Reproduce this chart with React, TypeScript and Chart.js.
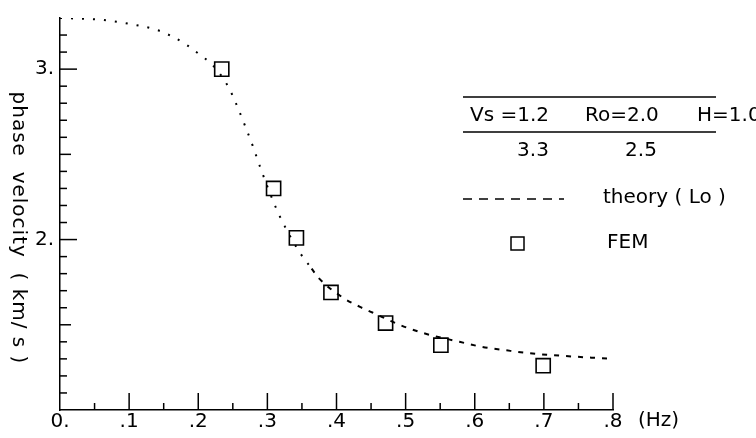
import React, { useEffect, useRef } from 'react';
import { Chart, registerables } from 'chart.js';
Chart.register(...registerables);

// FEM results (frequency Hz, phase velocity km/s)
const femFreq = [0.234, 0.309, 0.342, 0.392, 0.471, 0.551, 0.699];
const femVel = [3.0, 2.3, 2.01, 1.69, 1.51, 1.38, 1.26];

// theory (Lo) curve
const theoryFreq = [0, 0.058, 0.101, 0.14, 0.163, 0.184, 0.202, 0.221, 0.243, 0.254, 0.266, 0.279, 0.29, 0.312, 0.325, 0.347, 0.364, 0.374, 0.409, 0.434, 0.452, 0.491, 0.525, 0.578, 0.611, 0.646, 0.679, 0.712, 0.798];
const theoryVel = [3.3, 3.29, 3.265, 3.23, 3.19, 3.14, 3.085, 3.023, 2.9, 2.805, 2.685, 2.548, 2.42, 2.19, 2.079, 1.923, 1.83, 1.775, 1.66, 1.605, 1.572, 1.5, 1.452, 1.4, 1.37, 1.35, 1.333, 1.322, 1.3];

// axis ticks
const xTickValues = [0, 0.1, 0.2, 0.3, 0.4, 0.5, 0.6, 0.7, 0.8];
const xTickLabels = ['0.', '.1', '.2', '.3', '.4', '.5', '.6', '.7', '.8'];
const yTickValues = [2, 3];
const yTickLabels = ['2.', '3.'];

// legend table text
const paramNames = ['Vs =1.2', 'Ro=2.0', 'H=1.0'];
const paramValues = ['3.3', '2.5'];
const seriesNames = ['theory ( Lo )', 'FEM'];
const yTitle = 'phase  velocity  ( km/ s )';
const xUnit = '(Hz)';

const FONT = '"DejaVu Sans", sans-serif';

export default function App() {
  const ref = useRef<HTMLCanvasElement | null>(null);
  useEffect(() => {
    const canvas = ref.current!;
    const decor = {
      id: 'decor',
      afterDraw(chart: any) {
        const ctx = chart.ctx as CanvasRenderingContext2D;
        const xs = chart.scales.x;
        const ys = chart.scales.y;
        const left = chart.chartArea.left;
        const bottom = chart.chartArea.bottom;
        ctx.save();
        ctx.strokeStyle = '#000';
        ctx.lineWidth = 1.5;
        // y ticks (inside)
        for (let i = 11; i <= 32; i++) {
          const v = i / 10;
          const y = ys.getPixelForValue(v);
          const len = i % 10 === 0 ? 17 : i % 5 === 0 ? 11 : 7;
          ctx.beginPath();
          ctx.moveTo(left, y);
          ctx.lineTo(left + len, y);
          ctx.stroke();
        }
        // x ticks (inside)
        for (let i = 1; i <= 16; i++) {
          const v = i / 20;
          const x = xs.getPixelForValue(v);
          const len = i % 2 === 0 ? 17 : 7;
          ctx.beginPath();
          ctx.moveTo(x, bottom);
          ctx.lineTo(x, bottom - len);
          ctx.stroke();
        }
        ctx.fillStyle = '#000';
        ctx.font = `20px ${FONT}`;
        ctx.textBaseline = 'middle';
        // x unit
        ctx.textAlign = 'left';
        ctx.fillText(xUnit, 638, 421);
        // y title, rotated clockwise
        ctx.save();
        ctx.translate(18, 228);
        ctx.rotate(Math.PI / 2);
        ctx.textAlign = 'center';
        (ctx as any).letterSpacing = '1px';
        ctx.fillText(yTitle, 0, 0);
        (ctx as any).letterSpacing = '0px';
        ctx.restore();
        // legend table
        ctx.lineWidth = 1.5;
        ctx.beginPath();
        ctx.moveTo(463, 97);
        ctx.lineTo(716, 97);
        ctx.moveTo(463, 132);
        ctx.lineTo(716, 132);
        ctx.stroke();
        ctx.textAlign = 'left';
        ctx.fillText(paramNames[0], 470, 116);
        ctx.fillText(paramNames[1], 585, 116);
        ctx.fillText(paramNames[2], 697, 116);
        ctx.textAlign = 'center';
        ctx.fillText(paramValues[0], 533, 151);
        ctx.fillText(paramValues[1], 641, 151);
        ctx.textAlign = 'left';
        ctx.setLineDash([9, 7]);
        ctx.beginPath();
        ctx.moveTo(463, 199);
        ctx.lineTo(564, 199);
        ctx.stroke();
        ctx.setLineDash([]);
        ctx.fillText(seriesNames[0], 603, 198);
        ctx.strokeRect(511, 237, 13, 13);
        ctx.fillText(seriesNames[1], 607, 243);
        ctx.restore();
      },
    };
    const chart = new Chart(canvas, {
      type: 'scatter',
      data: {
        datasets: [
          {
            type: 'line',
            label: seriesNames[0],
            data: theoryFreq.map((x, i) => ({ x, y: theoryVel[i] })),
            borderColor: '#000',
            borderWidth: 2,
            pointRadius: 0,
            fill: false,
            cubicInterpolationMode: 'monotone',
            segment: {
              borderDash: (c: any) => (c.p0.parsed.x < 0.36 ? [2, 9] : [5, 7]),
            },
          } as any,
          {
            label: seriesNames[1],
            data: femFreq.map((x, i) => ({ x, y: femVel[i] })),
            pointStyle: 'rect',
            pointRadius: 10,
            pointBorderWidth: 1.6,
            pointBorderColor: '#000',
            pointBackgroundColor: 'rgba(0,0,0,0)',
            showLine: false,
          },
        ],
      },
      options: {
        animation: false,
        responsive: false,
        devicePixelRatio: 1,
        layout: { padding: { top: 12, right: 143, left: 0, bottom: 0 } },
        plugins: { legend: { display: false }, tooltip: { enabled: false } },
        scales: {
          x: {
            type: 'linear',
            min: 0,
            max: 0.8,
            grid: { display: false, drawTicks: false },
            border: { display: true, color: '#000', width: 1.5 },
            afterBuildTicks: (s: any) => {
              s.ticks = xTickValues.map((v) => ({ value: v }));
            },
            afterFit: (s: any) => {
              s.height = 28;
            },
            ticks: {
              color: '#000',
              font: { family: FONT, size: 20 },
              padding: 0,
              maxRotation: 0,
              autoSkip: false,
              callback: (_v: any, i: number) => xTickLabels[i],
            },
          },
          y: {
            type: 'linear',
            min: 1,
            max: 3.3,
            grid: { display: false, drawTicks: false },
            border: { display: true, color: '#000', width: 1.5 },
            afterBuildTicks: (s: any) => {
              s.ticks = yTickValues.map((v) => ({ value: v }));
            },
            afterFit: (s: any) => {
              s.width = 60;
            },
            ticks: {
              color: '#000',
              font: { family: FONT, size: 20 },
              padding: 6,
              autoSkip: false,
              callback: (_v: any, i: number) => yTickLabels[i],
            },
          },
        },
      },
      plugins: [decor],
    });
    return () => chart.destroy();
  }, []);
  return (
    <div style={{ position: 'fixed', left: 0, top: 0, width: 756, height: 438, background: '#fff' }}>
      <canvas ref={ref} width={756} height={438} style={{ width: 756, height: 438 }} />
    </div>
  );
}
